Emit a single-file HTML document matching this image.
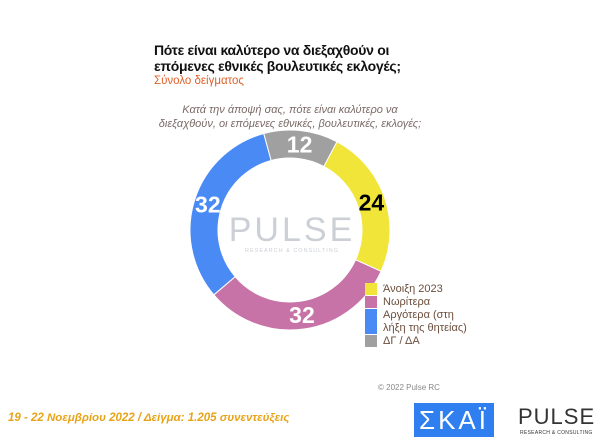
<!DOCTYPE html>
<html><head><meta charset="utf-8"><style>
body{margin:0;width:600px;height:441px;background:#fff;position:relative;overflow:hidden;font-family:"Liberation Sans",sans-serif}
.a{position:absolute}
.t{left:154px;top:42px;font-size:14px;font-weight:bold;color:#111;line-height:16px;letter-spacing:-0.3px}
.s{left:154px;top:75px;font-size:11.5px;color:#e0602a}
.q{left:150px;top:103px;width:280px;text-align:center;font-size:11px;font-style:italic;color:#7a6a66;line-height:14px;white-space:nowrap}
.lg{left:365px;font-size:11px;color:#6b4e3d;line-height:13px}
.sw{position:absolute;left:0;width:12px}
</style></head><body>
<div class="a t">Πότε είναι καλύτερο να διεξαχθούν οι<br>επόμενες εθνικές βουλευτικές εκλογές;</div>
<div class="a s">Σύνολο δείγματος</div>
<div class="a q">Κατά την άποψή σας, πότε είναι καλύτερο να<br>διεξαχθούν, οι επόμενες εθνικές, βουλευτικές, εκλογές;</div>
<svg class="a" style="left:0;top:0" width="600" height="441">
<g id="wm">
<text x="292" y="241" text-anchor="middle" font-size="34" fill="#ccd0d6" font-family="Liberation Sans" letter-spacing="3">PULSE</text>
<text x="292" y="252" text-anchor="middle" font-size="5.5" fill="#ccd0d6" font-family="Liberation Sans" letter-spacing="1">RESEARCH &amp; CONSULTING</text>
</g>
<g id="slices"></g><g id="labels"></g>
</svg>
<div class="a lg" style="top:283px">
<div style="position:relative;padding-left:18px;height:13px"><span class="sw" style="top:0;height:12px;background:#f2e53a"></span>Άνοιξη 2023</div>
<div style="position:relative;padding-left:18px;height:13px"><span class="sw" style="top:0;height:12px;background:#c873a8"></span>Νωρίτερα</div>
<div style="position:relative;padding-left:18px;height:26px"><span class="sw" style="top:0;height:25px;background:#4a8af5"></span>Αργότερα (στη<br>λήξη της θητείας)</div>
<div style="position:relative;padding-left:18px;height:13px"><span class="sw" style="top:0;height:12px;background:#a0a0a0"></span>ΔΓ / ΔΑ</div>
</div>
<div class="a" style="left:378px;top:383px;font-size:8px;color:#888">© 2022 Pulse RC</div>
<div class="a" style="left:8px;top:412px;font-size:11.5px;font-weight:bold;font-style:italic;color:#e8a317">19 - 22 Νοεμβρίου 2022 / Δείγμα: 1.205 συνεντεύξεις</div>
<div class="a" style="left:414px;top:403px;width:80px;height:34px;background:#2f7ff0;color:#fff;font-size:26px;text-align:center;line-height:34px;letter-spacing:3px">ΣΚΑΪ</div>
<div class="a" style="left:518px;top:404px;font-size:22px;color:#333;letter-spacing:1px">PULSE</div>
<div class="a" style="left:520px;top:430px;font-size:5px;color:#333;letter-spacing:0.3px">RESEARCH &amp; CONSULTING</div>
<script>
const categories=["Άνοιξη 2023","Νωρίτερα","Αργότερα (στη λήξη της θητείας)","ΔΓ / ΔΑ"];
const values=[24,32,32,12];
const colors=["#f2e53a","#c873a8","#4a8af5","#a0a0a0"];
const labelColors=["#000","#fff","#fff","#fff"];
const cx=290,cy=230,R=100,r=72,start=28;
const total=values.reduce((a,b)=>a+b,0);
const ns="http://www.w3.org/2000/svg";
function pt(a,rad){const t=(a-90)*Math.PI/180;return [cx+rad*Math.cos(t),cy+rad*Math.sin(t)];}
let a=start;
values.forEach((v,i)=>{
 const sweep=v/total*360,b=a+sweep,l=sweep>180?1:0;
 const [x1,y1]=pt(a,R),[x2,y2]=pt(b,R),[x3,y3]=pt(b,r),[x4,y4]=pt(a,r);
 const p=document.createElementNS(ns,"path");
 p.setAttribute("d",`M${x1} ${y1}A${R} ${R} 0 ${l} 1 ${x2} ${y2}L${x3} ${y3}A${r} ${r} 0 ${l} 0 ${x4} ${y4}Z`);
 p.setAttribute("fill",colors[i]);p.setAttribute("stroke","#fff");p.setAttribute("stroke-width","1");
 
 
 document.getElementById("slices").appendChild(p);
 const [lx,ly]=pt(a+sweep/2,(R+r)/2);
 const t=document.createElementNS(ns,"text");
 t.setAttribute("x",lx);t.setAttribute("y",ly+8);t.setAttribute("text-anchor","middle");
 t.setAttribute("font-size","23");t.setAttribute("font-weight","bold");t.setAttribute("fill",labelColors[i]);
 t.textContent=v;
 
 
 document.getElementById("labels").appendChild(t);
 a=b;
});
</script>
</body></html>
